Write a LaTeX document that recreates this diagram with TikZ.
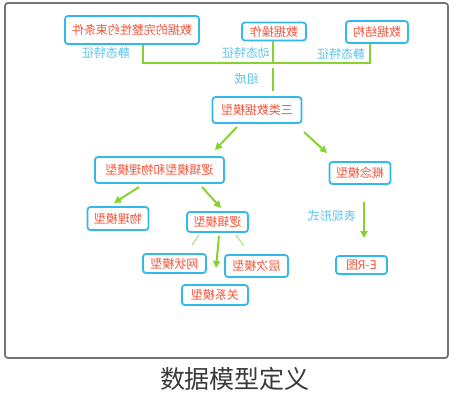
\documentclass[tikz,border=0pt]{standalone}
\usepackage{fontspec}
\usepackage{graphicx}
\newfontfamily\cjk{Noto Sans CJK SC}
\usetikzlibrary{arrows.meta}
\definecolor{boxblue}{HTML}{33B8EC}
\definecolor{boxred}{HTML}{F4553C}
\definecolor{lblblue}{HTML}{5EC4EE}
\definecolor{lgreen}{HTML}{86D22E}
\definecolor{pgreen}{HTML}{B8E08A}
\definecolor{framegray}{HTML}{747474}
\definecolor{capgray}{HTML}{3A3A3A}
\newcommand{\mirtext}[1]{\reflectbox{#1}}
\tikzset{
  mbox/.style={draw=boxblue, line width=1.8pt, rounded corners=3pt, fill=white,
    text=boxred, inner sep=0pt, font=\cjk\fontsize{12}{12}\selectfont},
  lbl/.style={text=lblblue, inner sep=0pt, font=\cjk\fontsize{12}{12}\selectfont},
  gline/.style={draw=lgreen, line width=2pt},
  garrow/.style={draw=lgreen, line width=2pt, -{Triangle[length=7pt,width=7pt]}},
  pline/.style={draw=pgreen, line width=1.2pt}
}
\begin{document}
\begin{tikzpicture}[x=1pt,y=-1pt]
\useasboundingbox (0,0) rectangle (467,400);
\fill[white] (0,0) rectangle (467,400);
% frame
\draw[framegray, line width=1.8pt, rounded corners=3pt] (5,3) rectangle (448,358);
% caption
\node[text=capgray, font=\cjk\fontsize{25}{25}\selectfont, inner sep=0pt] (cap) at (235,379) {数据模型定义};
% boxes
\node[mbox, minimum width=134pt, minimum height=28pt] (wz) at (132,30) {\mirtext{数据的完整性约束条件}};
\node[mbox, minimum width=64pt, minimum height=18pt] (cz) at (274,31.5) {\mirtext{数据操作}};
\node[mbox, minimum width=62pt, minimum height=22pt] (jg) at (377,32) {\mirtext{数据结构}};
\node[mbox, minimum width=89pt, minimum height=26pt] (sl) at (257,110) {\mirtext{三类数据模型}};
\node[mbox, minimum width=129pt, minimum height=26pt] (lw) at (159.5,170) {\mirtext{逻辑模型和物理模型}};
\node[mbox, minimum width=61pt, minimum height=22pt] (gn) at (360,173) {\mirtext{概念模型}};
\node[mbox, minimum width=61pt, minimum height=23pt] (wl) at (118,218.5) {\mirtext{物理模型}};
\node[mbox, minimum width=61pt, minimum height=20pt] (lj) at (217.5,222) {\mirtext{逻辑模型}};
\node[mbox, minimum width=63pt, minimum height=19pt] (wzm) at (174.5,263.5) {\mirtext{网状模型}};
\node[mbox, minimum width=63pt, minimum height=22pt] (cc) at (256.5,266) {\mirtext{层次模型}};
\node[mbox, minimum width=66pt, minimum height=20pt] (gx) at (215,295) {\mirtext{关系模型}};
\node[mbox, minimum width=51pt, minimum height=18pt] (er) at (361.5,265) {\mirtext{E-R图}};
% labels
\node[lbl] (l1) at (106,53) {\mirtext{静态特征}};
\node[lbl] (l2) at (246,53) {\mirtext{动态特征}};
\node[lbl] (l3) at (341,54) {\mirtext{静态特征}};
\node[lbl] (l4) at (246.5,79) {\mirtext{组成}};
\node[lbl] (l5) at (332,216) {\mirtext{表现形式}};
% coordinates for the bracket
\coordinate (b1) at (wz.south -| 143,0);
\coordinate (b2) at (cz.south -| 273,0);
\coordinate (b3) at (jg.south -| 370,0);
\coordinate (h1) at (143,63);
\coordinate (h2) at (273,63);
\coordinate (h3) at (370,63);
\coordinate (t1) at (273,68);
\coordinate (t2) at (273,91);
\draw[gline] (b1) -- (h1) -- (h3) -- (b3);
\draw[gline] (b2) -- (h2);
\draw[gline] (t1) -- (t2);
% arrows
\coordinate (a1s) at (237,127);
\coordinate (a1e) at (215,150);
\draw[garrow] (a1s) -- (a1e);
\coordinate (a2s) at (304,132);
\coordinate (a2e) at (327,153);
\draw[garrow] (a2s) -- (a2e);
\coordinate (a3s) at (139,187);
\coordinate (a3e) at (114,203);
\draw[garrow] (a3s) -- (a3e);
\coordinate (a4s) at (202,187);
\coordinate (a4e) at (221,208);
\draw[garrow] (a4s) -- (a4e);
\coordinate (a5s) at (364,202);
\coordinate (a5e) at (364,238);
\draw[garrow] (a5s) -- (a5e);
\coordinate (a6s) at (219,236);
\coordinate (a6e) at (216,268);
\draw[garrow] (a6s) -- (a6e);
\coordinate (p1s) at (199,235);
\coordinate (p1e) at (192,245);
\draw[pline] (p1s) -- (p1e);
\coordinate (p2s) at (236,235);
\coordinate (p2e) at (244,246);
\draw[pline] (p2s) -- (p2e);
\end{tikzpicture}
\end{document}
